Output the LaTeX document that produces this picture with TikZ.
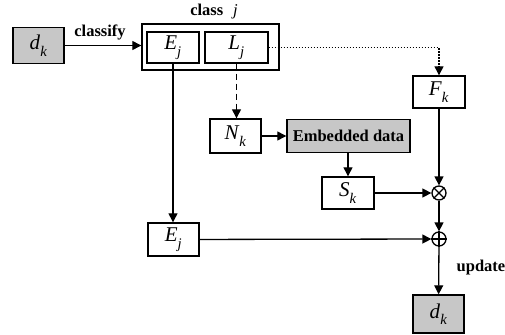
\documentclass[tikz,border=0pt]{standalone}
\usepackage{amsmath}
\usepackage{fontspec}
\setmainfont{Liberation Serif}
\usetikzlibrary{arrows.meta}
\newcommand{\vsym}[2]{\textit{#1}\raisebox{-0.35ex}{$_{\textit{#2}}$}}
\begin{document}
\begin{tikzpicture}[x=1pt,y=-1pt,
  box/.style={draw,line width=1.4pt,inner sep=0pt,minimum width=#1},
  shaded/.style={fill=black!22},
  mfont/.style={font=\fontsize{21}{24}\selectfont},
  lab/.style={font=\fontsize{16.5}{19}\selectfont\bfseries},
  conn/.style={line width=1.3pt,-{Triangle[length=9pt,width=9pt]}},
  op/.style={draw,circle,line width=1.3pt,minimum size=14pt,inner sep=0pt}]
\useasboundingbox (0,0) rectangle (505,334);
\node[box=51pt,minimum height=36pt,shaded,mfont] (din) at (38.5,45.5) {\vsym{d}{k}};
\node[box=137pt,minimum height=46pt] (cls) at (210.5,47) {};
\node[box=52pt,minimum height=31pt,mfont] (Ej) at (173,47.5) {\vsym{E}{j}};
\node[box=63pt,minimum height=31pt,mfont] (Lj) at (236.5,47.5) {\vsym{L}{j}};
\node[lab] (clab) at (214,12) {class\hspace{0.6em}\textit{\mdseries j}};
\node[box=52pt,minimum height=32pt,mfont] (Fk) at (439,92) {\vsym{F}{k}};
\node[box=51pt,minimum height=34pt,mfont] (Nk) at (235.5,136) {\vsym{N}{k}};
\node[box=123pt,minimum height=33pt,shaded,lab] (emb) at (348.5,136) {Embedded data};
\node[box=52pt,minimum height=32pt,mfont] (Sk) at (348,193) {\vsym{S}{k}};
\node[op] (ot) at (439,193) {};
\draw[line width=1.3pt] (ot.north west) -- (ot.south east) (ot.north east) -- (ot.south west);
\node[op] (opl) at (439,239) {};
\draw[line width=1.3pt] (opl.north) -- (opl.south) (opl.west) -- (opl.east);
\node[box=51pt,minimum height=33pt,mfont] (Ej2) at (173.5,239.5) {\vsym{E}{j}};
\node[box=51pt,minimum height=38pt,shaded,mfont] (dout) at (438.5,314) {\vsym{d}{k}};
\node[lab] (clf) at (100,32) {classify};
\node[lab] (upd) at (481,268) {update};
\draw[conn] (din.east) -- (din.east -| cls.west);
\draw[conn,dash pattern=on 1.5pt off 1.5pt] (Lj.east) -| (Fk.north);
\draw[conn,dash pattern=on 6pt off 4pt] (Lj.south) -- (Lj.south |- Nk.north);
\draw[conn] (Nk) -- (emb);
\draw[conn] (emb.south -| Sk.north) -- (Sk.north);
\draw[conn] (Fk) -- (ot);
\draw[conn] (Sk) -- (ot);
\draw[conn] (ot) -- (opl);
\draw[conn] (Ej.south) -- (Ej.south |- Ej2.north);
\draw[conn] (Ej2) -- (opl);
\draw[conn] (opl) -- (dout);
\end{tikzpicture}
\end{document}
